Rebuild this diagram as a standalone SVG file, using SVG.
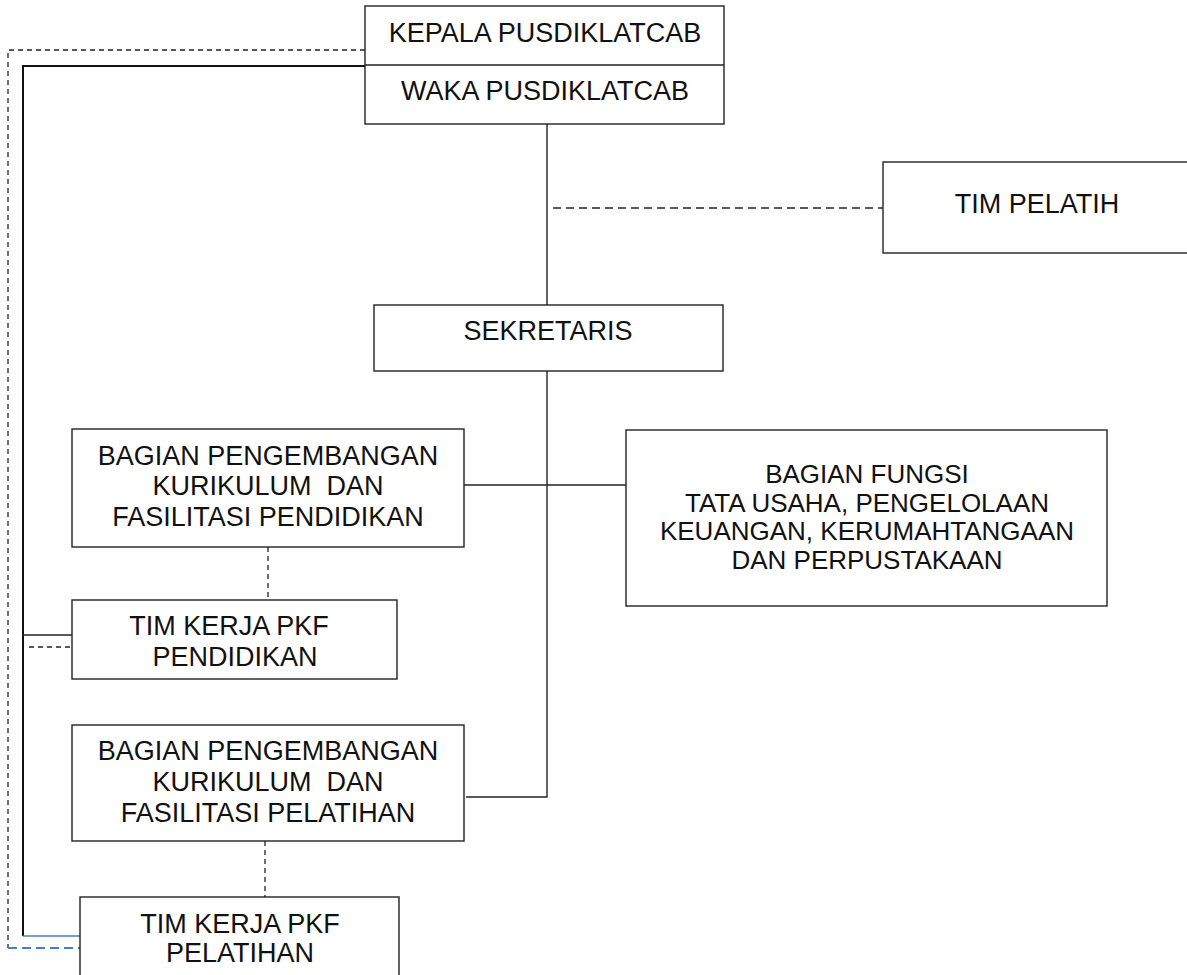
<svg xmlns="http://www.w3.org/2000/svg" width="1187" height="975" viewBox="0 0 1187 975">
<style>
.box{fill:#fff;stroke:#222;stroke-width:1.4}
.t{font-family:"Liberation Sans",Arial,sans-serif;font-size:27px;fill:#111;text-anchor:middle;white-space:pre}
.s{font-size:26px}
.ln{fill:none;stroke:#222;stroke-width:1.4}
.thick{fill:none;stroke:#111;stroke-width:2}
.dash{fill:none;stroke:#222;stroke-width:1.3;stroke-dasharray:5 4}
.dashl{fill:none;stroke:#222;stroke-width:1.3;stroke-dasharray:8 5}
.blue{fill:none;stroke:#4a7ebb;stroke-width:1.3}
.bluedash{fill:none;stroke:#4a7ebb;stroke-width:2;stroke-dasharray:9 5}
</style>
<rect width="1187" height="975" fill="#fff"/>
<g id="connectors">
<polyline class="dash" points="365,50 8,50 8,948"/>
<polyline class="thick" points="365,66 23,66 23,936"/>
<line class="blue" x1="23" y1="936" x2="80" y2="936"/>
<line class="bluedash" x1="8" y1="948" x2="80" y2="948"/>
<line class="ln" x1="23" y1="635" x2="72" y2="635"/>
<line class="dash" x1="29" y1="647" x2="78" y2="647"/>
<line class="ln" x1="547" y1="124" x2="547" y2="305"/>
<line class="dashl" x1="553" y1="208" x2="883" y2="208"/>
<polyline class="ln" points="547,371 547,797 466,797"/>
<line class="ln" x1="464" y1="485" x2="626" y2="485"/>
<line class="dash" x1="268" y1="547" x2="268" y2="600"/>
<line class="dash" x1="265" y1="841" x2="265" y2="897"/>
</g>
<g id="kepala">
<rect class="box" x="365" y="6" width="359" height="118"/>
<line class="ln" x1="365" y1="65" x2="724" y2="65"/>
<text class="t" x="545" y="42">KEPALA PUSDIKLATCAB</text>
</g>
<g id="waka">
<text class="t" x="545" y="100">WAKA PUSDIKLATCAB</text>
</g>
<g id="tim-pelatih">
<rect class="box" x="883" y="162" width="320" height="91"/>
<text class="t" x="1037" y="213">TIM PELATIH</text>
</g>
<g id="sekretaris">
<rect class="box" x="374" y="305" width="349" height="66"/>
<text class="t" x="548" y="340">SEKRETARIS</text>
</g>
<g id="bagian-pendidikan">
<rect class="box" x="72" y="429" width="392" height="118"/>
<text class="t" x="268" y="465">BAGIAN PENGEMBANGAN</text>
<text class="t" x="268" y="495" xml:space="preserve">KURIKULUM  DAN</text>
<text class="t" x="268" y="526">FASILITASI PENDIDIKAN</text>
</g>
<g id="bagian-fungsi">
<rect class="box" x="626" y="430" width="481" height="176"/>
<text class="t s" x="867" y="483">BAGIAN FUNGSI</text>
<text class="t s" x="867" y="511.5">TATA USAHA, PENGELOLAAN</text>
<text class="t s" x="867" y="540">KEUANGAN, KERUMAHTANGAAN</text>
<text class="t s" x="867" y="568.5">DAN PERPUSTAKAAN</text>
</g>
<g id="tim-kerja-pendidikan">
<rect class="box" x="72" y="600" width="325" height="79"/>
<text class="t" x="229" y="635">TIM KERJA PKF</text>
<text class="t" x="235" y="666">PENDIDIKAN</text>
</g>
<g id="bagian-pelatihan">
<rect class="box" x="72" y="725" width="392" height="116"/>
<text class="t" x="268" y="760">BAGIAN PENGEMBANGAN</text>
<text class="t" x="268" y="791" xml:space="preserve">KURIKULUM  DAN</text>
<text class="t" x="268" y="822">FASILITASI PELATIHAN</text>
</g>
<g id="tim-kerja-pelatihan">
<rect class="box" x="80" y="897" width="319" height="100"/>
<text class="t" x="240" y="933">TIM KERJA PKF</text>
<text class="t" x="240" y="962">PELATIHAN</text>
</g>
</svg>
